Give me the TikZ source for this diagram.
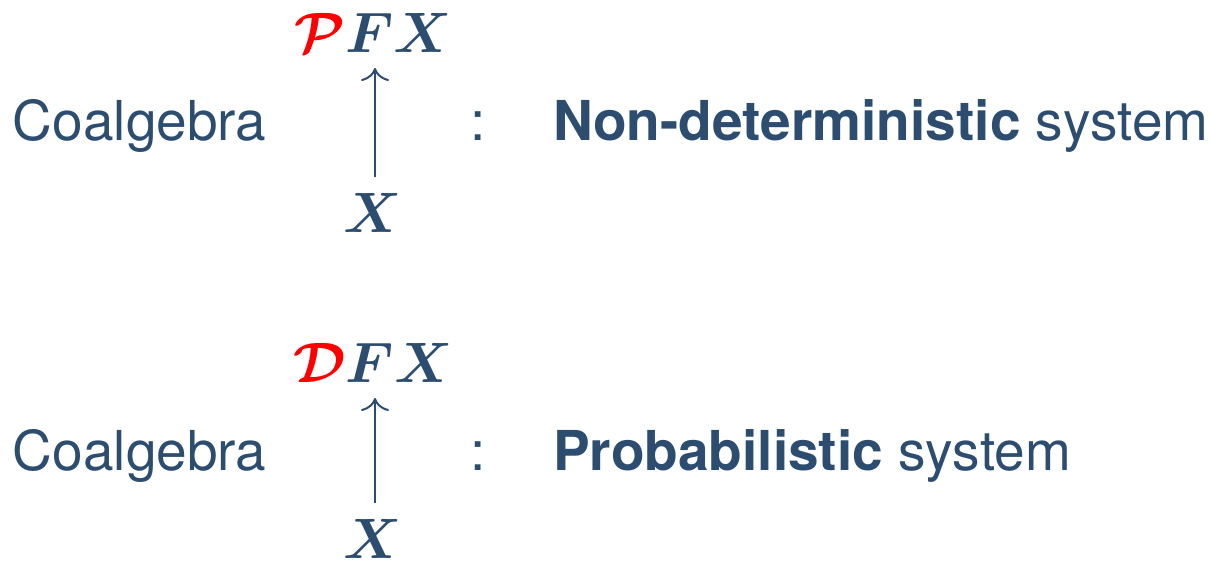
\documentclass[tikz,border=0pt]{standalone}
\usepackage{bm}
\usepackage{graphicx}
\usepackage{fontspec}
\setmainfont{TeX Gyre Heros}
\usetikzlibrary{arrows.meta}
\definecolor{ink}{RGB}{44,77,111}
\definecolor{hl}{RGB}{255,0,0}
\newcommand{\bigmath}[1]{\scalebox{1.04}{$#1$}}
\begin{document}
\begin{tikzpicture}[x=0.2pt,y=-0.2pt,
  every node/.style={text=ink,font=\fontsize{11}{13}\selectfont},
  lbl/.style={anchor=base west,inner sep=0pt},
  obj/.style={anchor=base,inner sep=3pt},
  map/.style={draw=ink,line width=0.4pt,-{To[width=5.6pt,length=2.6pt]}}]
\useasboundingbox (0,0) rectangle (1211,563);
% non-deterministic coalgebra
\node[lbl] (c1) at (12,140) {Coalgebra};
\node[anchor=base,inner sep=0pt] (k1) at (478,140) {:};
\node[lbl] (s1) at (552,140) {\textbf{Non-deterministic} system};
\node[obj] (t1) at (373,52) {\bigmath{\textcolor{hl}{\bm{\mathcal{P}}}\bm{F}\bm{X}}};
\node[obj] (x1) at (373,232) {\bigmath{\bm{X}}};
\draw[map] (x1.north -| 375,0) -- (t1.south -| 375,0);
% probabilistic coalgebra
\node[lbl] (c2) at (12,470) {Coalgebra};
\node[anchor=base,inner sep=0pt] (k2) at (478,470) {:};
\node[lbl] (s2) at (552,470) {\textbf{Probabilistic} system};
\node[obj] (t2) at (373,382) {\bigmath{\textcolor{hl}{\bm{\mathcal{D}}}\bm{F}\bm{X}}};
\node[obj] (x2) at (373,558) {\bigmath{\bm{X}}};
\draw[map] (x2.north -| 375,0) -- (t2.south -| 375,0);
\end{tikzpicture}
\end{document}
